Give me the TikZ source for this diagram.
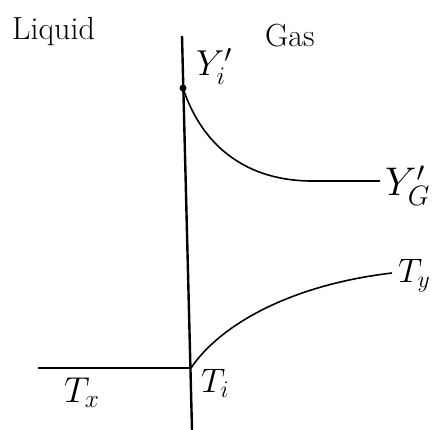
\RequirePackage{fix-cm}
\documentclass[tikz,border=0pt]{standalone}
\usepackage{xcolor}
\usepackage{amsmath}
\usepackage{tikz}

\begin{document}
\begin{tikzpicture}[x=1pt, y=-1pt, every node/.style={font=\fontsize{32}{36}\selectfont, inner sep=0pt, anchor=base west}]
        \useasboundingbox (0,0) rectangle (433,430);
        % interface and phases
        \coordinate (top) at (182,36);
        \coordinate (bot) at (192,430);
        \coordinate (lft) at (38,368);
        \coordinate (ti) at (191,368);
        \node (liq) at (12,40) {Liquid};
        \node (gas) at (265,47) {Gas};
        \draw[line width=2.4pt] (top) -- (bot);
        \draw[line width=2.4pt] (lft) -- (ti);
        % humidity profile
        \node[circle, fill, minimum size=7pt, anchor=center] (yi) at (183,88) {};
        \node[font=\fontsize{36}{40}\selectfont] (yilab) at (196,76) {$Y_i'$};
        \node[font=\fontsize{40}{44}\selectfont] (yg) at (385,196) {$Y_G'$};
        \coordinate (yend) at (380,181);
        \draw[line width=1.6pt] (yi.center) .. controls (200,140) and (240,180) .. (310,181) -- (yend);
        % temperature profile
        \node[font=\fontsize{34}{38}\selectfont] (ty) at (398,282) {$T_y$};
        \node[font=\fontsize{36}{40}\selectfont] (tx) at (64,402) {$T_x$};
        \node[font=\fontsize{34}{38}\selectfont] (tilab) at (201,392) {$T_i$};
        \coordinate (tend) at (392,273);
        \draw[line width=1.6pt] (ti) .. controls (220,325) and (290,285) .. (tend);
    \end{tikzpicture}
\end{document}
